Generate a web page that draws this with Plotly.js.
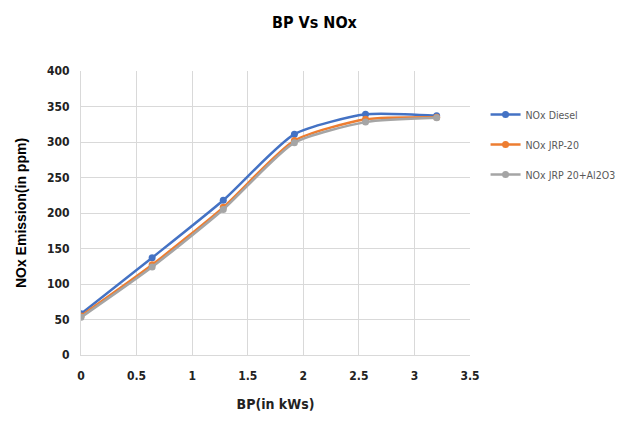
<!DOCTYPE html>
<html><head><meta charset="utf-8">
<script src="https://cdn.plot.ly/plotly-3.0.1.min.js"></script>
<style>html,body{margin:0;padding:0;background:#fff}#c{width:629px;height:429px}</style>
</head><body><div id="c"></div>
<script>
const bp = [0, 0.64, 1.28, 1.92, 2.56, 3.2];
const noxDiesel = [58, 137, 218, 311, 339, 337];
const noxJRP20 = [55, 127, 208, 302, 332, 335];
const noxJRP20Al2O3 = [53, 124, 205, 299, 328, 334];
const seriesNames = ['NOx Diesel', 'NOx JRP-20', 'NOx JRP 20+Al2O3'];
const colors = ['#4472C4', '#ED7D31', '#A5A5A5'];
const ys = [noxDiesel, noxJRP20, noxJRP20Al2O3];

const cond = 'DejaVu Sans Condensed, Liberation Sans Narrow, sans-serif';
const traces = ys.map((y, i) => ({
  x: bp, y: y, name: seriesNames[i], type: 'scatter', mode: 'lines+markers',
  legendgroup: 'g' + i,
  line: {color: colors[i], width: 2.5, shape: 'spline', smoothing: 0.6},
  marker: {color: colors[i], size: 7, symbol: 'circle'}
}));

const layout = {
  width: 629, height: 429,
  margin: {l: 81, r: 159, t: 71, b: 74, autoexpand: false},
  paper_bgcolor: '#fff', plot_bgcolor: '#fff',
  title: {text: '<b>BP Vs NOx</b>', x: 0.5, xanchor: 'center', y: 0.948, yanchor: 'middle',
    font: {family: cond, size: 16, color: '#000'}},
  xaxis: {range: [0, 3.5], dtick: 0.5, tick0: 0, showgrid: true, gridcolor: '#d9d9d9', gridwidth: 1,
    zeroline: false, showline: true, linecolor: '#d9d9d9', ticks: '', ticklen: 0, ticklabelstandoff: 10,
    tickfont: {family: cond, size: 12, color: '#222', weight: 'bold'},
    title: {text: '<b>BP(in kWs)</b>', standoff: 16,
      font: {family: cond, size: 14, color: '#222'}}},
  yaxis: {range: [0, 400], dtick: 50, showgrid: true, gridcolor: '#d9d9d9', gridwidth: 1,
    zeroline: false, showline: true, linecolor: '#d9d9d9', ticks: '', ticklen: 0, ticklabelstandoff: 8,
    tickfont: {family: cond, size: 12, color: '#222', weight: 'bold'},
    title: {text: '<b>NOx Emission(in ppm)</b>', standoff: 17,
      font: {family: 'Liberation Sans, Arial, sans-serif', size: 14, color: '#000'}}},
  legend: {x: 1.04, xanchor: 'left', y: 0.898, yanchor: 'top', traceorder: 'grouped',
    bgcolor: 'rgba(0,0,0,0)', tracegroupgap: 11, itemwidth: 30,
    font: {family: cond, size: 10.5, color: '#595959'}},
  showlegend: true
};
Plotly.newPlot('c', traces, layout, {displayModeBar: false, staticPlot: true});
</script></body></html>
